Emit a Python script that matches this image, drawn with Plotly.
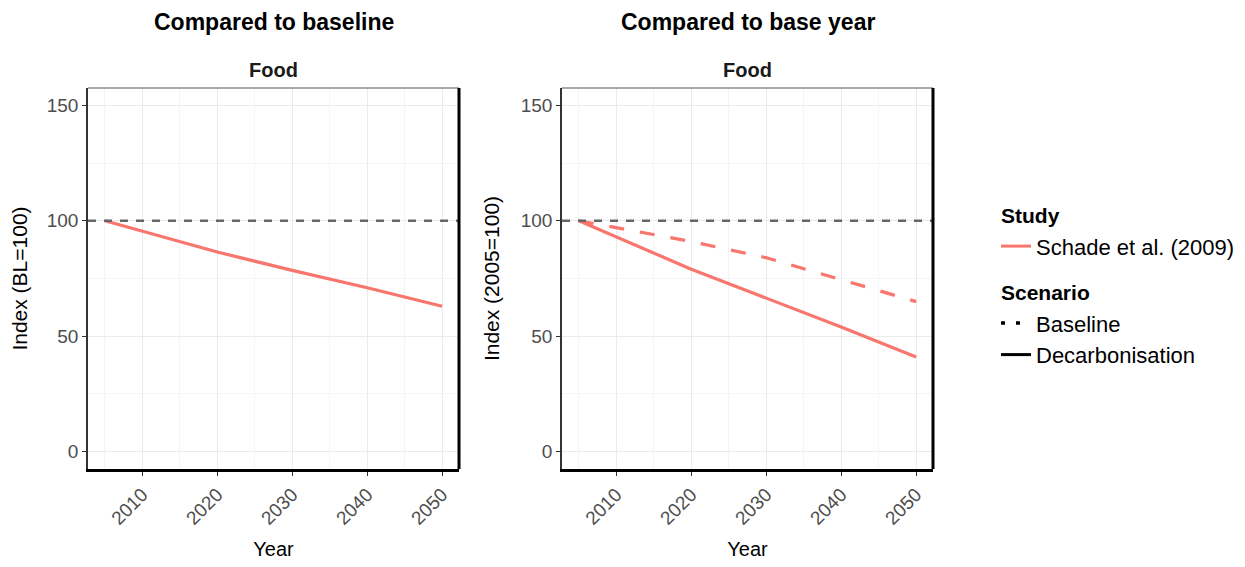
import plotly.graph_objects as go

# ---- data ----
years = [2005, 2020, 2030, 2040, 2050]
vs_baseline_decarb = [100, 86.5, 78.5, 71, 63]
vs_baseyear_decarb = [100, 79, 66.5, 54, 41]
vs_baseyear_baseline = [100, 91, 84, 74.5, 65]
x_ticks = [2010, 2020, 2030, 2040, 2050]
y_ticks = [0, 50, 100, 150]
reference_level = 100
study_name = "Schade et al. (2009)"
panel_titles = ["Compared to baseline", "Compared to base year"]
strip_label = "Food"
y_titles = ["Index (BL=100)", "Index (2005=100)"]

RED = "#F8766D"
FONT = "Liberation Sans"
OFF = 8  # page body margin
W, H = 1245 - OFF, 567 - OFF

fig = go.Figure()

# panel 1
fig.add_trace(go.Scatter(x=years, y=vs_baseline_decarb, mode="lines",
                         line=dict(color=RED, width=3.2), showlegend=False,
                         xaxis="x", yaxis="y"))
# panel 2
fig.add_trace(go.Scatter(x=years, y=vs_baseyear_baseline, mode="lines",
                         line=dict(color=RED, width=3.2, dash="15px,16px"), showlegend=False,
                         xaxis="x2", yaxis="y2"))
fig.add_trace(go.Scatter(x=years, y=vs_baseyear_decarb, mode="lines",
                         line=dict(color=RED, width=3.2), showlegend=False,
                         xaxis="x2", yaxis="y2"))

LEG = 22
# legend entries
fig.add_trace(go.Scatter(x=[None], y=[None], mode="lines", name=study_name,
                         line=dict(color=RED, width=3), legendgroup="study",
                         legendgrouptitle=dict(text="Study", font=dict(size=21, color="black", family=FONT, weight="bold"))))
fig.add_trace(go.Scatter(x=[None], y=[None], mode="lines", name="Baseline",
                         line=dict(color="black", width=3.5, dash="4px,11px"), legendgroup="scen",
                         legendgrouptitle=dict(text="Scenario", font=dict(size=21, color="black", family=FONT, weight="bold"))))
fig.add_trace(go.Scatter(x=[None], y=[None], mode="lines", name="Decarbonisation",
                         line=dict(color="black", width=3), legendgroup="scen"))

def px_x(p):
    return (p - OFF) / W

def px_y(p):
    return 1 - (p - OFF) / H

dom_x = [[px_x(88), px_x(459)], [px_x(562), px_x(933)]]
dom_y = [px_y(469), px_y(88)]

axis_common = dict(
    showgrid=True, gridcolor="#EBEBEB", gridwidth=1.2,
    zeroline=False, ticks="outside", ticklen=4, tickcolor="#333333", tickwidth=1.2,
    tickfont=dict(family=FONT, size=19, color="#4D4D4D"),
    automargin=False,
)

for i, ax in enumerate(["", "2"]):
    fig.update_layout(**{
        f"xaxis{ax}": dict(axis_common, domain=dom_x[i], anchor=f"y{ax}", range=[2002.75, 2052.25],
                           tickvals=x_ticks, tickangle=-45,
                           minor=dict(showgrid=True, gridcolor="#F5F5F5", gridwidth=0.8, tickvals=[2005, 2015, 2025, 2035, 2045], ticks=""),
                           showline=True, linecolor="black", linewidth=3,
                           title=dict(text="Year", font=dict(family=FONT, size=20, color="black"), standoff=15)),
        f"yaxis{ax}": dict(axis_common, domain=dom_y, anchor=f"x{ax}", range=[-7.5, 157.5],
                           tickvals=y_ticks,
                           minor=dict(showgrid=True, gridcolor="#F5F5F5", gridwidth=0.8, tickvals=[25, 75, 125], ticks=""),
                           showline=True, linecolor="#333333", linewidth=1.5,
                           title=dict(text=y_titles[i], font=dict(family=FONT, size=21, color="black"), standoff=15)),
    })
    # reference line at 100
    fig.add_shape(type="line", xref=f"x{ax} domain", yref=f"y{ax}", x0=0, x1=1,
                  y0=reference_level, y1=reference_level,
                  line=dict(color="#666666", width=2.5, dash="8px,8px"))
    # top border
    fig.add_shape(type="line", xref=f"x{ax} domain", yref=f"y{ax} domain", x0=0, x1=1, y0=1, y1=1,
                  line=dict(color="#555555", width=1.2))
    # right border
    fig.add_shape(type="line", xref=f"x{ax} domain", yref=f"y{ax} domain", x0=1, x1=1, y0=0, y1=1,
                  line=dict(color="black", width=3))
    cx = (dom_x[i][0] + dom_x[i][1]) / 2
    fig.add_annotation(text=panel_titles[i], xref="paper", yref="paper", x=cx, y=1,
                       showarrow=False, xanchor="center", yanchor="top", borderpad=0,
                       font=dict(family=FONT, size=23, color="black", weight="bold"))
    fig.add_annotation(text=strip_label, xref="paper", yref="paper", x=cx, y=px_y(70),
                       showarrow=False, xanchor="center", yanchor="middle",
                       font=dict(family=FONT, size=20, color="#1A1A1A", weight="bold"))

fig.update_layout(
    width=W, height=H,
    margin=dict(l=0, r=0, t=0, b=0),
    paper_bgcolor="white", plot_bgcolor="white",
    font=dict(family=FONT),
    legend=dict(x=px_x(996), y=px_y(195), xanchor="left", yanchor="top",
                font=dict(family=FONT, size=LEG, color="black"),
                tracegroupgap=15, itemwidth=30, bgcolor="rgba(0,0,0,0)"),
)

fig.write_html("out.html")
